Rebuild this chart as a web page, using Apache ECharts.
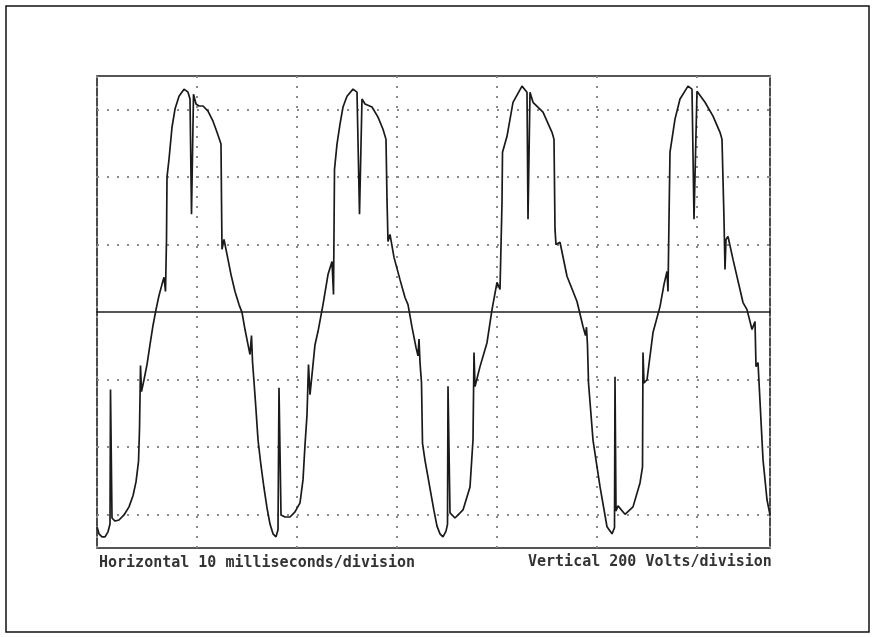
<!DOCTYPE html>
<html>
<head>
<meta charset="utf-8">
<script src="https://cdn.jsdelivr.net/npm/echarts@6/dist/echarts.min.js"></script>
<style>
html,body{margin:0;padding:0;background:#fff;}
#chart{width:874px;height:637px;}
</style>
</head>
<body>
<div id="chart"></div>
<script>
// Time in milliseconds, voltage in volts (10 ms/div, 200 V/div)
const cycle1 = [[0,-637],[0.2,-658],[0.5,-667],[0.8,-667],[1.1,-652],[1.3,-629],[1.35,-230],[1.5,-611],[1.8,-620],[2.2,-617],[2.7,-602],[3.2,-578],[3.6,-545],[3.9,-504],[4.15,-444],[4.25,-349],[4.35,-159],[4.45,-236],[4.7,-201],[5.0,-156],[5.3,-97],[5.6,-40],[5.9,7],[6.2,49],[6.5,82],[6.7,103],[6.85,61],[6.95,215],[7.0,400],[7.2,453],[7.5,548],[7.8,602],[8.2,640],[8.7,661],[9.1,652],[9.3,632],[9.45,290],[9.65,646],[9.9,617],[10.2,611],[10.6,611],[11.1,596],[11.6,566],[12.0,533],[12.3,507],[12.4,498],[12.45,334],[12.5,186],[12.7,215],[13.0,171],[13.4,111],[13.8,61],[14.2,22],[14.5,-1],[14.8,-52],[15.1,-97],[15.3,-126],[15.45,-70],[15.55,-147],[15.7,-207],[15.9,-290],[16.1,-379],[16.4,-456],[16.7,-522],[17.0,-581],[17.3,-629],[17.6,-658],[17.9,-667],[18.1,-646]];
const cycle2 = [[18.2,-225],[18.4,-602],[18.8,-608],[19.3,-608],[19.8,-593],[20.3,-566],[20.6,-498],[20.8,-394],[21.0,-305],[21.15,-156],[21.3,-245],[21.5,-186],[21.8,-97],[22.1,-58],[22.6,22],[23.1,111],[23.5,150],[23.65,52],[23.75,423],[24.0,498],[24.3,557],[24.6,608],[25.0,640],[25.6,661],[26.0,652],[26.25,290],[26.5,632],[26.8,617],[27.5,608],[28.1,578],[28.6,542],[28.9,512],[29.0,334],[29.1,209],[29.3,230],[29.7,162],[30.3,96],[30.8,43],[31.1,22],[31.5,-45],[31.9,-105],[32.1,-130],[32.2,-80],[32.3,-150],[32.45,-210],[32.55,-390],[32.8,-440],[33.1,-490],[33.4,-540],[33.7,-590],[34.0,-635],[34.3,-658],[34.6,-667],[34.9,-650]];
const cycle3 = [[35.05,-630],[35.1,-220],[35.3,-596],[35.8,-611],[36.6,-587],[37.3,-519],[37.6,-379],[37.7,-120],[37.8,-221],[38.3,-162],[39.0,-91],[39.5,7],[40.0,88],[40.3,67],[40.5,325],[40.55,474],[41.0,521],[41.6,622],[42.5,670],[43.0,652],[43.1,275],[43.3,652],[43.6,622],[44.6,593],[45.5,533],[45.7,512],[45.8,245],[45.9,200],[46.3,207],[47.0,106],[48.0,31],[48.6,-43],[48.85,-70],[48.95,-45],[49.05,-100],[49.15,-210],[49.6,-380],[50.3,-518],[51.0,-637],[51.5,-658],[51.75,-640]];
const cycle4 = [[51.8,-192],[51.9,-590],[52.1,-575],[52.8,-600],[53.6,-578],[54.3,-507],[54.55,-460],[54.6,-120],[54.7,-210],[55.0,-201],[55.6,-61],[56.3,16],[56.7,82],[57.0,120],[57.1,61],[57.2,275],[57.3,474],[57.8,572],[58.3,632],[59.1,670],[59.5,661],[59.7,275],[60.0,655],[60.8,622],[61.6,581],[62.3,533],[62.5,512],[62.7,275],[62.8,126],[62.9,215],[63.1,224],[63.6,156],[64.6,28],[65.0,7],[65.5,-52],[65.8,-28],[65.9,-162],[66.1,-150],[66.6,-438],[67.0,-557],[67.3,-602]];

const gridVolts = [-600, -400, -200, 200, 400, 600];
const xLabel = 'Horizontal 10 milliseconds/division';
const yLabel = 'Vertical 200 Volts/division';

const trace = cycle1.concat(cycle2, cycle3, cycle4);

const chart = echarts.init(document.getElementById('chart'), null, {renderer: 'canvas'});
const dotted = {color: '#8a8a8a', width: 2, type: [2, 8]};

chart.setOption({
  animation: false,
  backgroundColor: '#ffffff',
  grid: {left: 97, right: 104, top: 76, bottom: 89, show: true, borderColor: '#1e1e1e', borderWidth: 1.6, backgroundColor: 'transparent'},
  xAxis: {
    type: 'value', min: 0, max: 67.3, interval: 10,
    axisLine: {show: true, onZero: true, lineStyle: {color: '#1e1e1e', width: 1.6}},
    axisTick: {show: false}, axisLabel: {show: false},
    splitLine: {show: true, lineStyle: dotted}
  },
  yAxis: {
    type: 'value', min: -700, max: 700, interval: 100,
    axisLine: {show: false}, axisTick: {show: false}, axisLabel: {show: false},
    splitLine: {show: false}
  },
  series: [
    {
      type: 'line', data: [], silent: true,
      markLine: {
        silent: true, symbol: 'none', label: {show: false},
        lineStyle: dotted,
        data: gridVolts.map(v => ({yAxis: v}))
      }
    },
    {
      type: 'line', data: trace, showSymbol: false, symbol: 'none',
      lineStyle: {color: '#1a1a1a', width: 1.7}, z: 5
    }
  ],
  graphic: [
    {type: 'rect', shape: {x: 6, y: 6, width: 863, height: 626}, style: {fill: 'none', stroke: '#111', lineWidth: 1.5}, silent: true},
    {type: 'text', left: 99, top: 556, style: {text: xLabel, font: 'bold 15px "DejaVu Sans Mono", monospace', fill: '#333'}},
    {type: 'text', left: 528, top: 555, style: {text: yLabel, font: 'bold 15px "DejaVu Sans Mono", monospace', fill: '#333'}}
  ]
});
</script>
</body>
</html>
